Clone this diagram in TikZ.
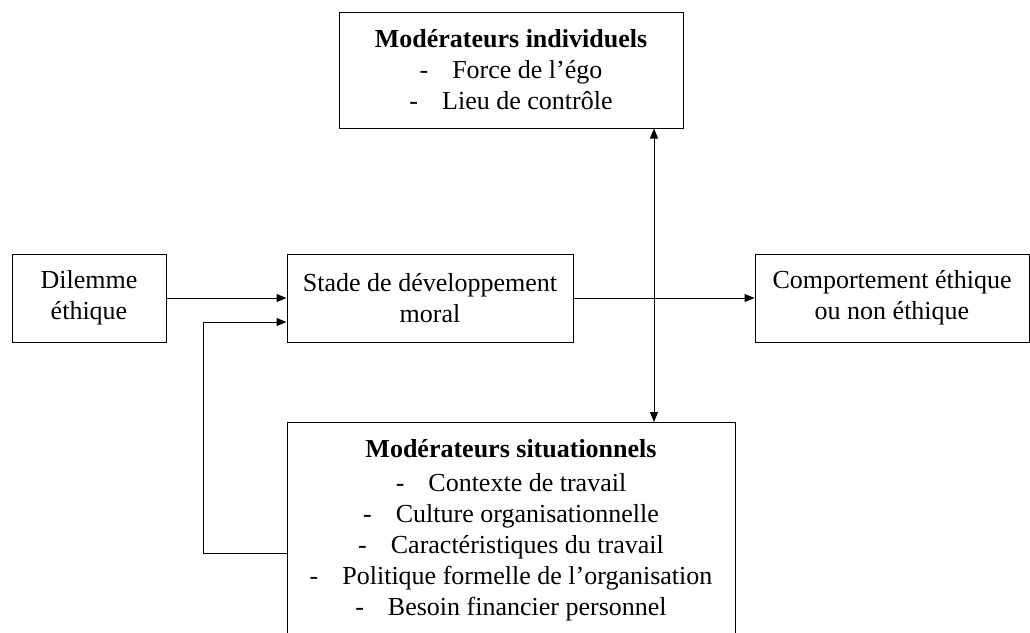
\documentclass[tikz,border=0pt]{standalone}
\usepackage{fontspec}
\setmainfont{Liberation Serif}
\usetikzlibrary{arrows.meta}

\tikzset{
  box/.style={draw, line width=1pt, align=center, inner sep=0pt, font=\fontsize{26}{31}\selectfont},
  link/.style={line width=1pt, -{Triangle[length=10pt, width=8pt]}},
  twoway/.style={line width=1pt, {Triangle[length=10pt, width=8pt]}-{Triangle[length=10pt, width=8pt]}},
}

\begin{document}
\begin{tikzpicture}[x=1pt, y=-1pt]

\clip (0,0) rectangle (1030,632);

\node[box, minimum width=154pt, minimum height=88pt] (dilemme) at (89,298) {Dilemme\\éthique};
\node[box, minimum width=286pt, minimum height=88pt] (stade) at (430,298) {Stade de développement\\moral};
\node[box, minimum width=274pt, minimum height=88pt] (compo) at (892,298) {Comportement éthique\\ou non éthique};

\node[box, minimum width=344pt, minimum height=116pt] (indiv) at (511,70) {\textbf{Modérateurs individuels}\\-\hspace{24pt}Force de l’égo\\-\hspace{24pt}Lieu de contrôle};

\node[box, minimum width=448pt, minimum height=216pt, anchor=north] (situ) at (511,422) {\textbf{Modérateurs situationnels}\\[3pt]-\hspace{24pt}Contexte de travail\\-\hspace{24pt}Culture organisationnelle\\-\hspace{24pt}Caractéristiques du travail\\-\hspace{24pt}Politique formelle de l’organisation\\-\hspace{24pt}Besoin financier personnel};

\coordinate (axis) at (654,0);
\coordinate (retour) at (203,553);

\draw[link] (dilemme.east) -- (stade.west);
\draw[link] (stade.east) -- (compo.west);
\draw[twoway] (indiv.south -| axis) -- (situ.north -| axis);
\draw[link] (situ.west |- retour) -- (retour) |- ([yshift=-24pt]stade.west);

\end{tikzpicture}
\end{document}
